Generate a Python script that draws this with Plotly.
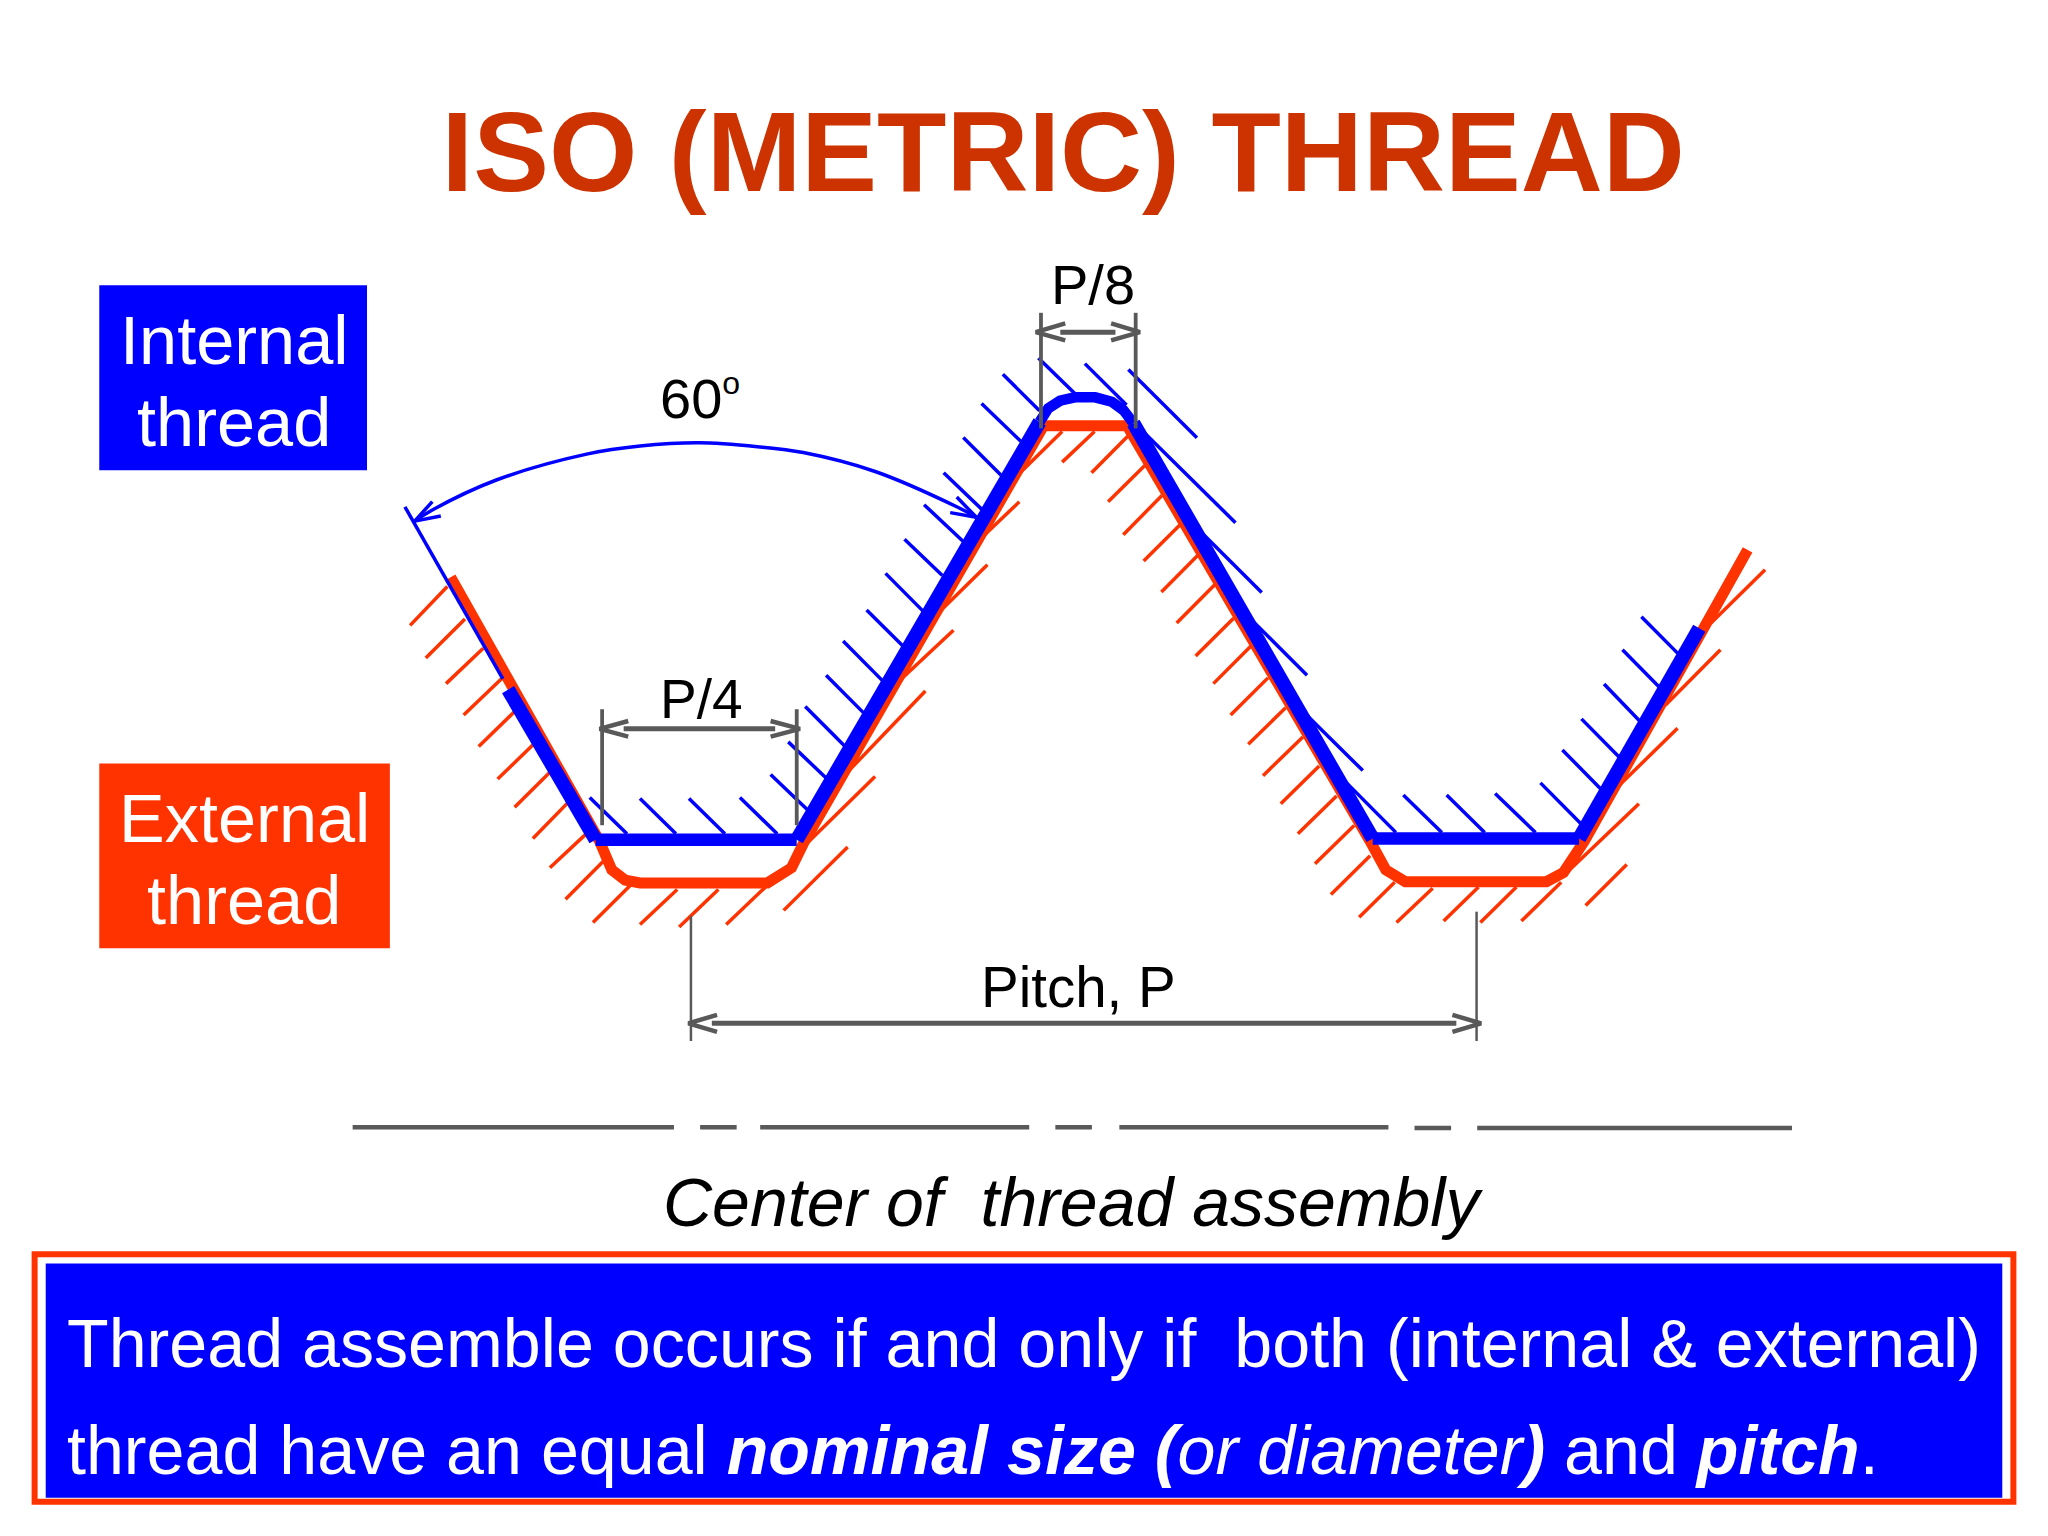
import plotly.graph_objects as go

# everything is in slide units (1568 x 1176)
SLIDE_W = 1568
SLIDE_H = 1176

RED = "#FF3300"
BLUE = "#0000FF"
GREY = "#595959"
TITLE_RED = "#CC3300"
FONT = "Liberation Sans"

red_x = [345, 459, 468.4, 478.6, 490, 587.5, 606, 616, 799, 863, 1049, 1061, 1076, 1184, 1197, 1213, 1338]
red_y = [442, 644, 666, 673.8, 676, 676, 664.4, 644, 326, 326, 644, 666, 675, 675, 668, 644, 421]

blue_x = [389, 456, 610, 796, 802.6, 811.6, 823, 838.5, 851.2, 860.1, 867.8, 1051, 1209, 1301]
blue_y = [528, 643, 643, 323, 312.6, 306.8, 304.2, 304.2, 307.6, 314, 324, 642, 642, 481]

# the blue profile is not one pen width all along: flanks, flats, rounded crest
blue_runs = [(0, 2, 14), (1, 3, 12.5), (2, 4, 14), (3, 11, 10.5), (10, 12, 14), (11, 13, 12.5), (12, 14, 14)]

datum_x = [310, 385]
datum_y = [388, 519.7]

arc_x = [317.5, 330, 380, 450, 490, 535, 580, 615, 670, 732.5, 747.5]
arc_y = [399, 391, 367.5, 347.5, 341.5, 339, 342, 346.5, 361, 388, 396]

blue_hatch = [
    (451.5, 610.6, 480, 638.4), (490, 611.3, 517.5, 638.4), (527.5, 611.3, 555, 638.4),
    (566.5, 610.6, 595, 638.4), (590, 593, 620, 621.7), (603.5, 568, 632.5, 595.7),
    (616.5, 541, 646.5, 571), (632.5, 517, 661, 545.6), (645.5, 490.7, 676, 521.5),
    (663.5, 467, 691.5, 494.8), (678, 439, 706.5, 467.7), (692.5, 412.8, 721.5, 440.6),
    (707.5, 386.4, 737.5, 414.6), (722.5, 362, 751.5, 389.8), (737.5, 335, 766.5, 363.8),
    (751.5, 309, 781.5, 337.8), (767.8, 286.6, 795.9, 314.4), (795, 274, 823.5, 301.8),
    (830.6, 278.4, 862.5, 310), (863.9, 282.9, 916.4, 335.2), (869.5, 324.8, 945.9, 400.2),
    (918.7, 406.5, 966, 453.6), (958.6, 475, 1000.7, 517), (998.4, 545.6, 1043.4, 590),
    (1031, 599.4, 1068.7, 637.3), (1074.4, 608.7, 1103.9, 637.3), (1107.6, 608.7, 1136.7, 637.3),
    (1144.7, 607.6, 1175.6, 637.3), (1179.4, 599.4, 1210.8, 631), (1196.2, 574.2, 1225.8, 604.2),
    (1210.8, 550.4, 1239.8, 579.8), (1228.1, 523.7, 1256.3, 553), (1242.2, 497.4, 1270.3, 526),
    (1256.7, 472.2, 1285.3, 501),
]

red_hatch = [
    (314, 478.8, 342.5, 449.1), (326, 503.7, 356, 474), (341.5, 523.4, 370, 496.3),
    (355, 547.5, 384, 519.7), (366.5, 571.6, 395, 543.8), (381, 596.5, 408.5, 569.8),
    (394, 618, 421, 591.3), (408, 642, 435, 614.3), (421, 664.4, 450, 637.3),
    (433, 688.5, 462.5, 658.8), (454, 706.3, 482.5, 678), (490, 707.8, 518.5, 681),
    (520, 709.7, 550, 681), (556, 707.8, 586, 679.2), (600, 697, 649, 648.4),
    (614, 649.5, 670, 594.6), (650, 590, 708.5, 529), (682.5, 527, 730, 482.5),
    (712.5, 475, 756, 432.4), (745.3, 417.6, 780.4, 384.2), (773.4, 369.4, 813.2, 330.4),
    (813.2, 353.8, 838, 330.4), (835.7, 362, 863.4, 334), (848.4, 384.2, 876.5, 356.4),
    (860, 409.4, 889.6, 379.4), (875.6, 429.5, 903.7, 401.6), (889.2, 453.2, 917.3, 425),
    (900.9, 477, 930.4, 447.3), (915.4, 502.2, 944.5, 473.3), (929, 523.4, 957.6, 494.8),
    (942.2, 547.5, 970.8, 519), (955.7, 569.8, 984.3, 541.9), (967, 593.9, 997.5, 564.2),
    (980.6, 615.4, 1010, 586.4), (993.7, 638.4, 1023.3, 609.4), (1006.8, 661.4, 1036.8, 632.1),
    (1019, 684.8, 1049, 655.1), (1040.6, 702.2, 1067.8, 675.5), (1069.2, 706.3, 1096.9, 680),
    (1105.3, 705.2, 1132, 679.2), (1133.4, 706.3, 1161, 679.2), (1164.8, 705.2, 1195.3, 675.5),
    (1214, 693.3, 1245.5, 661.8), (1197.6, 670, 1254.8, 615.4), (1239.8, 601.3, 1284.4, 557.5),
    (1275, 540, 1317.2, 497.4), (1310, 477, 1351.4, 436.2),
]

# extension lines of the dimensions
ext_thick = [(461, 543, 461, 631.8), (610, 543, 610, 631.8), (797, 239.5, 797, 328), (869.5, 239.5, 869.5, 328)]
ext_thin = [(529, 701.5, 529, 797), (1130.5, 698, 1130.5, 797)]

dim_shafts = [(477.5, 558, 593.5, 558), (811.8, 254.3, 854, 254.3), (545, 783.5, 1115, 783.5)]

# open arrow heads: arm, tip, arm
grey_heads = [
    [(481, 552), (459, 558), (481, 564)],
    [(590, 552), (612.5, 558), (590, 564)],
    [(815.6, 247.6), (793, 254.3), (815.6, 260.6)],
    [(850.7, 247.6), (872.8, 254.3), (850.7, 260.6)],
    [(549, 777), (527, 783.5), (549, 790)],
    [(1112, 777), (1134, 783.5), (1112, 790)],
]
blue_heads = [
    [(331, 384), (317.5, 399), (337.5, 395)],
    [(732.5, 380.5), (747.5, 396), (727.5, 392.5)],
]

center_line = [
    (270, 863, 516, 863), (536, 863, 564, 863), (582, 863, 788, 863), (808, 863, 836, 863),
    (857, 863, 1063, 863), (1083, 863.6, 1111, 863.6), (1131, 863.6, 1372, 863.6),
]


def add_segments(fig, segments, color, width):
    xs, ys = [], []
    for x0, y0, x1, y1 in segments:
        xs += [x0, x1, None]
        ys += [y0, y1, None]
    fig.add_trace(go.Scatter(x=xs, y=ys, mode="lines", line=dict(color=color, width=width), hoverinfo="skip"))


def add_heads(fig, heads, color, width):
    xs, ys = [], []
    for head in heads:
        xs += [p[0] for p in head] + [None]
        ys += [p[1] for p in head] + [None]
    fig.add_trace(go.Scatter(x=xs, y=ys, mode="lines", line=dict(color=color, width=width), hoverinfo="skip"))


fig = go.Figure()

add_segments(fig, blue_hatch, BLUE, 3.5)
add_segments(fig, red_hatch, RED, 3.5)
fig.add_trace(go.Scatter(x=red_x, y=red_y, mode="lines", line=dict(color=RED, width=11), hoverinfo="skip"))
fig.add_trace(go.Scatter(x=datum_x, y=datum_y, mode="lines", line=dict(color=BLUE, width=3.5), hoverinfo="skip"))
for start, stop, width in blue_runs:
    fig.add_trace(go.Scatter(x=blue_x[start:stop], y=blue_y[start:stop], mode="lines",
                             line=dict(color=BLUE, width=width), hoverinfo="skip"))
fig.add_trace(go.Scatter(x=arc_x, y=arc_y, mode="lines", line=dict(color=BLUE, width=3.5, shape="spline"), hoverinfo="skip"))
add_heads(fig, blue_heads, BLUE, 3.5)
add_segments(fig, ext_thick, GREY, 3.8)
add_segments(fig, ext_thin, GREY, 2.5)
add_segments(fig, dim_shafts, GREY, 5)
add_heads(fig, grey_heads, GREY, 4.5)
add_segments(fig, center_line, GREY, 4.5)

boxes = [
    dict(x0=76, y0=218.3, x1=281, y1=360, fillcolor=BLUE, line_width=0),
    dict(x0=76, y0=584.6, x1=298.5, y1=726, fillcolor=RED, line_width=0),
    dict(x0=26.5, y0=960.3, x1=1541.5, y1=1149.7, fillcolor="white", line=dict(color=RED, width=6)),
    dict(x0=35, y0=967.3, x1=1533, y1=1146.8, fillcolor=BLUE, line_width=0),
]
for box in boxes:
    fig.add_shape(type="rect", xref="x", yref="y", layer="below", **box)


def label(x, y, text, size, color="black", xanchor="center"):
    fig.add_annotation(x=x, y=y, text=text, showarrow=False, xanchor=xanchor, yanchor="middle",
                       font=dict(family=FONT, size=size, color=color))


label(179, 261, "Internal", 68.5, "white")
label(179, 323.5, "thread", 68.5, "white")
label(187.5, 627, "External", 68.5, "white")
label(187, 689.5, "thread", 68.5, "white")
label(536, 304, "60<sup><span style=\"font-size:32px\">o</span></sup>", 56)
label(537, 535, "P/4", 55)
label(837, 218, "P/8", 56)
label(826, 756, "Pitch, P", 56.5)
label(821.5, 920, "<i>Center of  thread assembly</i>", 68)
label(50, 1028, "Thread assemble occurs if and only if  both (internal &amp; external)", 68.2, "white", "left")
label(50, 1110, "thread have an equal <b><i>nominal size (</i></b><i>or diameter</i><b><i>)</i></b> and <b><i>pitch</i></b>.",
      68.2, "white", "left")

fig.update_layout(
    width=2048,
    height=1536,
    margin=dict(l=0, r=0, t=0, b=0),
    paper_bgcolor="white",
    plot_bgcolor="white",
    showlegend=False,
    title=dict(text="<b>ISO (METRIC) THREAD</b>", x=814 / SLIDE_W, xanchor="center",
               y=1 - 115.5 / SLIDE_H, yanchor="middle",
               font=dict(family=FONT, size=113.6, color=TITLE_RED)),
    xaxis=dict(range=[0, SLIDE_W], visible=False, fixedrange=True),
    yaxis=dict(range=[SLIDE_H, 0], visible=False, fixedrange=True),
)

fig.write_html("out.html", config={"displayModeBar": False},
               post_script="document.body.style.margin='0';")
